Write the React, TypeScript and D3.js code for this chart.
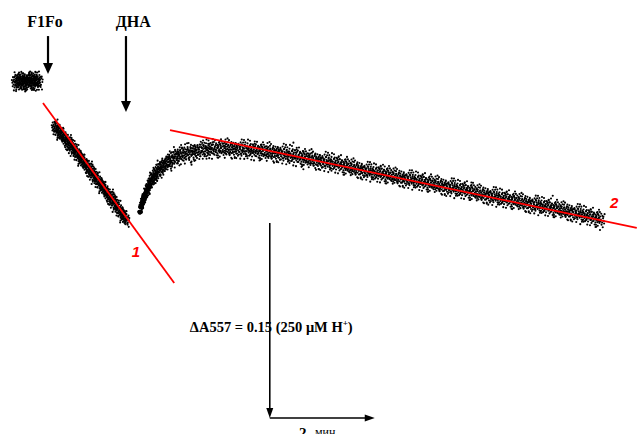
import React, { useEffect, useRef } from 'react';
import * as d3 from 'd3';

// time in minutes, ΔA557 in milli-units (0 = foot of the scale bar)
const baseTrace: [number, number][] = [
  [0.07, 258.5], [0.11, 259.5], [0.15, 259], [0.19, 258], [0.23, 260], [0.27, 259.5],
  [0.31, 258.5], [0.35, 259.5], [0.39, 260], [0.43, 258.5], [0.47, 259], [0.51, 259.5],
];

const f1foTrace: [number, number][] = [
  [0.82, 224], [0.87, 221.5], [0.92, 219.5], [0.97, 217], [1.02, 214.5], [1.07, 212],
  [1.12, 209.5], [1.17, 207.5], [1.22, 204.5], [1.27, 202], [1.32, 199.5], [1.37, 196.5],
  [1.42, 194.5], [1.47, 191.5], [1.52, 189], [1.57, 186], [1.62, 183.5], [1.67, 181],
  [1.72, 178.5], [1.77, 175.5], [1.82, 172.5], [1.87, 170], [1.92, 167.5], [1.97, 164.5],
  [2.02, 161.5], [2.07, 158.5], [2.12, 156], [2.17, 153],
];

// [t, ΔA, noise half-width]
const dhaTrace: [number, number, number][] = [
  [2.44, 158.5, 1], [2.46, 162.3, 1.2], [2.48, 165.4, 1.3], [2.5, 167.7, 1.5], [2.52, 170, 1.7],
  [2.54, 171.5, 2], [2.57, 175, 2.3], [2.61, 178.5, 2.6], [2.65, 181.9, 3], [2.69, 184.6, 3.3],
  [2.72, 186.9, 3.6], [2.78, 190, 4], [2.84, 192.7, 4.4], [2.9, 194.6, 4.7], [2.95, 196.2, 5],
  [3.01, 198.1, 5.2], [3.09, 200, 5.4], [3.16, 201.5, 5.5], [3.24, 202.7, 5.6], [3.33, 203.8, 5.6],
  [3.43, 204.8, 5.6], [3.52, 205.5, 5.6], [3.62, 206.2, 5.6], [3.71, 206.7, 5.6],
  [3.8, 206.9, 5.6], [3.9, 207.5, 5.6], [4.0, 207.1, 5.6], [4.1, 207.5, 5.6], [4.2, 207, 5.6],
  [4.3, 207.2, 5.6], [4.4, 206.5, 5.6], [4.5, 206.6, 5.6], [4.6, 205.7, 5.6], [4.7, 205.7, 5.6],
  [4.8, 204.8, 5.6], [4.9, 204.8, 5.6], [5.0, 204, 5.6], [5.1, 204, 5.6], [5.2, 202.8, 5.6],
  [5.3, 202.5, 5.6], [5.4, 201.3, 5.6], [5.5, 201, 5.5], [5.6, 199.8, 5.5], [5.7, 199.4, 5.5],
  [5.8, 198.3, 5.5], [5.9, 197.9, 5.5], [6.0, 196.8, 5.5], [6.1, 196.3, 5.5], [6.2, 195.6, 5.5],
  [6.3, 194.4, 5.5], [6.4, 193.7, 5.5], [6.5, 192.3, 5.5], [6.6, 191.7, 5.3], [6.7, 190.4, 5.3],
  [6.8, 189.9, 5.3], [6.9, 188.7, 5.3], [7.0, 188.4, 5.3], [7.1, 187.3, 5.3], [7.2, 186.9, 5.3],
  [7.3, 185.5, 5.3], [7.4, 185.2, 5.3], [7.5, 184, 5.3], [7.6, 183.6, 5.3], [7.7, 182.5, 5.3],
  [7.8, 182, 5.3], [7.9, 180.9, 5.3], [8.0, 180.5, 5.3], [8.1, 179.4, 5.3], [8.2, 178.9, 5.3],
  [8.3, 177.7, 5.3], [8.4, 177.3, 5.3], [8.5, 176, 5.3], [8.6, 175.7, 5.3], [8.7, 174.6, 5.3],
  [8.8, 174, 5.3], [8.9, 172.7, 5.3], [9.0, 172.3, 5.3], [9.1, 171, 5.3], [9.2, 170.5, 5.3],
  [9.3, 169.3, 5.3], [9.4, 168.8, 5.3], [9.5, 167.6, 5.3], [9.6, 167.3, 5.3], [9.7, 166, 5.3],
  [9.8, 165.7, 5.3], [9.9, 164.4, 5.3], [10.0, 164, 5.3], [10.1, 162.9, 5.3], [10.2, 162.5, 5.3],
  [10.3, 161.3, 5.3], [10.4, 160.9, 5.3], [10.5, 159.6, 5.3], [10.6, 159.3, 5.3], [10.7, 158, 5.3],
  [10.8, 157.4, 5.3], [10.9, 156, 5.3], [11.0, 155.4, 5.3], [11.1, 154, 5.3], [11.2, 153.3, 5.3],
];

// stray readings away from the band
const outliers: [number, number][] = [
  [3.42, 194.9], [5.36, 211.8], [5.55, 191.3], [7.1, 193.5], [8.75, 181.2], [10.3, 171], [11.2, 144.6],
  [0.21, 265.2], [0.42, 252.4],
];

// linear fits drawn over the trace
const fit1: [number, number][] = [[0.59, 242.3], [3.09, 103.8]];
const fit2: [number, number][] = [[3.01, 221.5], [11.9, 146.2]];
const fitLabels = [
  { text: '1', t: 2.36, a: 123.8 },
  { text: '2', t: 11.47, a: 161.5 },
];

// additions
const events = [
  { label: 'F1Fo', t: 0.686, labelT: 0.63, top: 293.8, tip: 264.6 },
  { label: 'ДНА', t: 2.171, labelT: 2.31, top: 293.8, tip: 235.4 },
];
const eventLabelA = 300.8;

// scale bar
const barOrigin: [number, number] = [4.91, 0];
const barDA = 150;
const barDT = 2;
const barText = 'ΔA557 = 0.15 (250 μM H';
const barTimeNum = '2';
const barTimeUnit = 'мин';

// speckle patterns used for one noisy sample (unit square, a few strays outside)
const speckles: [number, number][][] = [
  [[-0.83, 0.12], [-0.41, -0.37], [0.17, 0.58], [0.62, -0.21], [-0.12, 0.05], [0.91, 0.44], [-0.67, -0.71],
   [0.34, -0.63], [-0.29, 0.81], [0.08, -0.18], [0.73, 0.09], [-0.95, -0.27], [0.46, 0.32], [-0.53, 0.39],
   [0.22, -0.94], [-0.07, 0.33], [0.58, 0.77], [-0.36, -0.05], [0.87, -0.48], [-0.74, 0.63], [0.03, -0.52],
   [0.39, 0.04], [-0.18, -0.83], [-0.61, -0.12], [-0.45, 1.25], [0.7, -1.2], [0.1, 1.35]],
  [[-0.72, 0.27], [-0.19, -0.44], [0.51, 0.16], [0.14, 0.69], [-0.88, -0.51], [0.79, -0.33], [-0.44, 0.06],
   [0.27, -0.24], [-0.03, 0.97], [0.96, 0.58], [-0.57, -0.86], [0.42, -0.78], [-0.26, 0.47], [0.67, 0.43],
   [-0.98, 0.09], [0.09, -0.06], [-0.13, -0.67], [0.33, 0.38], [-0.66, 0.74], [0.85, -0.02], [0.19, -0.47],
   [-0.38, -0.23], [0.58, -0.55], [-0.09, 0.24], [0.3, 1.3], [-0.8, -1.25], [0.6, 1.15]],
  [[-0.93, -0.08], [-0.49, 0.52], [0.06, -0.31], [0.71, 0.31], [0.31, 0.86], [-0.22, -0.12], [0.48, -0.41],
   [-0.69, -0.39], [0.92, -0.66], [-0.11, 0.62], [0.16, 0.13], [-0.81, 0.88], [0.61, -0.07], [-0.35, -0.64],
   [0.25, -0.71], [-0.58, 0.21], [0.82, 0.69], [-0.02, -0.96], [0.43, 0.55], [-0.47, -0.98], [0.11, 0.36],
   [-0.27, 0.29], [0.68, -0.29], [-0.76, -0.17], [-0.2, -1.3], [0.55, 1.25], [-0.9, 1.2]],
  [[-0.61, -0.02], [-0.07, 0.44], [0.38, -0.13], [0.89, 0.21], [-0.32, -0.53], [0.15, -0.83], [-0.86, 0.47],
   [0.55, 0.62], [-0.16, 0.86], [0.74, -0.59], [-0.51, -0.74], [0.02, 0.09], [0.29, 0.26], [-0.97, -0.62],
   [0.63, -0.36], [-0.24, 0.18], [0.47, 0.94], [-0.42, 0.66], [0.97, -0.17], [0.21, -0.44], [-0.73, -0.31],
   [-0.05, -0.21], [0.36, 0.71], [-0.55, 0.34], [0.8, 1.3], [-0.35, -1.2], [0.05, -1.35]],
];

const W = 638;
const H = 434;
const serif = '"Liberation Serif", "Times New Roman", serif';
const sans = '"Liberation Sans", Arial, sans-serif';

const App = () => {
  const ref = useRef<SVGSVGElement>(null);

  useEffect(() => {
    const svg = d3.select(ref.current);
    svg.selectAll('*').remove();

    const x = d3.scaleLinear().domain([0, 12]).range([12, 642]);
    const y = d3.scaleLinear().domain([0, 300]).range([418, 28]);

    svg.append('rect').attr('width', W).attr('height', H).attr('fill', '#fff');

    // noisy trace
    const gDots = svg.append('g').attr('fill', '#000');
    const drawTrace = (pts: number[][], spread: number | null, hw: number) => {
      pts.forEach((p, i) => {
        const s = spread ?? p[2];
        const sPx = Math.abs(y(0) - y(s));
        const w = Math.min(hw, 0.7 * sPx + 1);
        const flip = Math.floor(i / 4) % 2 ? -1 : 1;
        speckles[i % 4].forEach(([u, v]) => {
          gDots
            .append('circle')
            .attr('cx', x(p[0]) + flip * u * w)
            .attr('cy', y(p[1]) + v * sPx)
            .attr('r', 1.05);
        });
      });
    };
    drawTrace(baseTrace, 5.2, 4);
    drawTrace(f1foTrace, 4.6, 3.5);
    drawTrace(dhaTrace, null, 5);
    outliers.forEach(([t, a]) => {
      gDots.append('circle').attr('cx', x(t)).attr('cy', y(a)).attr('r', 1.05);
    });

    // fit lines
    const line = d3
      .line<[number, number]>()
      .x((d) => x(d[0]))
      .y((d) => y(d[1]));
    [fit1, fit2].forEach((f) => {
      svg
        .append('path')
        .attr('d', line(f))
        .attr('fill', 'none')
        .attr('stroke', '#ff0000')
        .attr('stroke-width', 1.8);
    });
    fitLabels.forEach((l) => {
      svg
        .append('text')
        .attr('x', x(l.t))
        .attr('y', y(l.a))
        .attr('text-anchor', 'middle')
        .attr('fill', '#ff0000')
        .style('font', `italic bold 15px ${sans}`)
        .text(l.text);
    });

    const arrowHeadDown = (cx: number, tipY: number, w: number, h: number) =>
      `M${cx - w / 2},${tipY - h}L${cx + w / 2},${tipY - h}L${cx},${tipY}Z`;
    const arrowHeadRight = (tipX: number, cy: number, w: number, h: number) =>
      `M${tipX - h},${cy - w / 2}L${tipX - h},${cy + w / 2}L${tipX},${cy}Z`;

    // event arrows
    events.forEach((e) => {
      const ex = x(e.t);
      svg
        .append('line')
        .attr('x1', ex)
        .attr('x2', ex)
        .attr('y1', y(e.top))
        .attr('y2', y(e.tip) - 8)
        .attr('stroke', '#000')
        .attr('stroke-width', 2.2);
      svg.append('path').attr('d', arrowHeadDown(ex, y(e.tip), 10, 11)).attr('fill', '#000');
      svg
        .append('text')
        .attr('x', x(e.labelT))
        .attr('y', y(eventLabelA))
        .attr('text-anchor', 'middle')
        .style('font', `bold 16px ${serif}`)
        .text(e.label);
    });

    // scale bar
    const ox = x(barOrigin[0]);
    const oy = y(barOrigin[1]);
    const topY = y(barOrigin[1] + barDA);
    const endX = x(barOrigin[0] + barDT);
    svg
      .append('line')
      .attr('x1', ox)
      .attr('x2', ox)
      .attr('y1', topY)
      .attr('y2', oy - 8)
      .attr('stroke', '#000')
      .attr('stroke-width', 1.6);
    svg.append('path').attr('d', arrowHeadDown(ox, oy, 7, 10)).attr('fill', '#000');
    svg
      .append('line')
      .attr('x1', ox)
      .attr('x2', endX - 8)
      .attr('y1', oy)
      .attr('y2', oy)
      .attr('stroke', '#000')
      .attr('stroke-width', 1.6);
    svg.append('path').attr('d', arrowHeadRight(endX, oy, 7, 10)).attr('fill', '#000');

    const t1 = svg
      .append('text')
      .attr('x', ox + 1.5)
      .attr('y', y(66.2))
      .attr('text-anchor', 'middle')
      .style('font', `bold 14.5px ${serif}`);
    t1.append('tspan').text(barText);
    t1.append('tspan').attr('dy', -6).style('font-size', '9px').text('+');
    t1.append('tspan').attr('dy', 6).text(')');

    svg
      .append('text')
      .attr('x', x(barOrigin[0] + 0.557))
      .attr('y', y(-15.4))
      .style('font', `bold 15px ${serif}`)
      .text(barTimeNum);
    svg
      .append('text')
      .attr('x', x(barOrigin[0] + 0.861))
      .attr('y', y(-13.8))
      .style('font', `12px ${serif}`)
      .text(barTimeUnit);
  }, []);

  return (
    <div style={{ position: 'absolute', left: 0, top: 0 }}>
      <svg ref={ref} width={W} height={H} style={{ display: 'block' }} />
    </div>
  );
};

export default App;
